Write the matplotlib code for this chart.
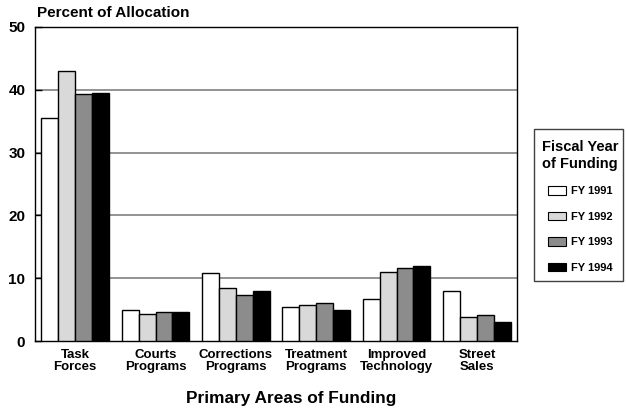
import matplotlib
matplotlib.use("Agg")
import matplotlib.pyplot as plt
import numpy as np
from matplotlib.patches import Patch, Rectangle

plt.rcParams['font.family'] = ['Liberation Sans', 'DejaVu Sans']
plt.rcParams['font.weight'] = 'bold'

categories = ["Task\nForces", "Courts\nPrograms", "Corrections\nPrograms",
              "Treatment\nPrograms", "Improved\nTechnology", "Street\nSales"]
series_names = ["FY 1991", "FY 1992", "FY 1993", "FY 1994"]
fy1991 = [35.5, 4.9, 10.8, 5.5, 6.7, 7.9]
fy1992 = [43.0, 4.25, 8.4, 5.8, 11.0, 3.8]
fy1993 = [39.4, 4.6, 7.4, 6.0, 11.7, 4.2]
fy1994 = [39.5, 4.7, 8.0, 4.9, 11.9, 3.0]
yticks = [0, 10, 20, 30, 40, 50]

series = [fy1991, fy1992, fy1993, fy1994]
colors = ["#ffffff", "#d9d9d9", "#8c8c8c", "#000000"]

W, H = 626, 408
fig = plt.figure(figsize=(W / 100, H / 100), dpi=100)
ax = fig.add_axes([0.056, 0.164, 0.770, 0.770])

x = np.arange(len(categories))
w = 0.21
for i, (vals, c) in enumerate(zip(series, colors)):
    ax.bar(x + (i - 1.5) * w, vals, w, color=c, edgecolor='black', linewidth=1.0,
           label=series_names[i], zorder=3)

ax.set_xlim(-0.5, len(categories) - 0.5)
ax.set_ylim(0, 50)
ax.set_yticks(yticks)
ax.set_yticklabels([str(t) for t in yticks], fontsize=11, fontweight='bold')
ax.set_xticks(x)
ax.set_xticklabels(categories, fontsize=9.5, fontweight='bold', linespacing=0.95)
ax.tick_params(axis='x', length=0, pad=6)
ax.tick_params(axis='y', length=5, direction='in', pad=7, width=1)
for t in yticks[1:-1]:
    ax.axhline(t, color='#808080', linewidth=1.2, zorder=1)
for s in ax.spines.values():
    s.set_linewidth(1.0)
    s.set_color('black')

fig.text(0.465, 0.012, "Primary Areas of Funding", fontsize=12.4, fontweight='bold',
         ha='center', va='baseline')
fig.text(0.059, 0.958, "Percent of Allocation", fontsize=11, fontweight='bold',
         ha='left', va='baseline')

# legend frame
fig.patches.append(Rectangle((534 / W, 1 - 281 / H), 89 / W, 152 / H,
                             transform=fig.transFigure, facecolor='white',
                             edgecolor='#404040', linewidth=1.0, zorder=0))

handles = [Patch(facecolor=c, edgecolor='black', linewidth=0.8) for c in colors]
leg = fig.legend(handles, series_names, loc='upper left',
                 bbox_to_anchor=(536 / W, 1 - 134 / H),
                 borderaxespad=0.0,
                 title="Fiscal Year\nof Funding", frameon=False,
                 prop={'size': 8, 'weight': 'bold'},
                 handlelength=1.6, handleheight=0.8, labelspacing=1.38,
                 borderpad=0.55, handletextpad=0.4)
leg.get_title().set_fontsize(10.5)
leg.get_title().set_fontweight('bold')
leg.get_title().set_linespacing(1.25)

fig.savefig("out.png", dpi=100)
